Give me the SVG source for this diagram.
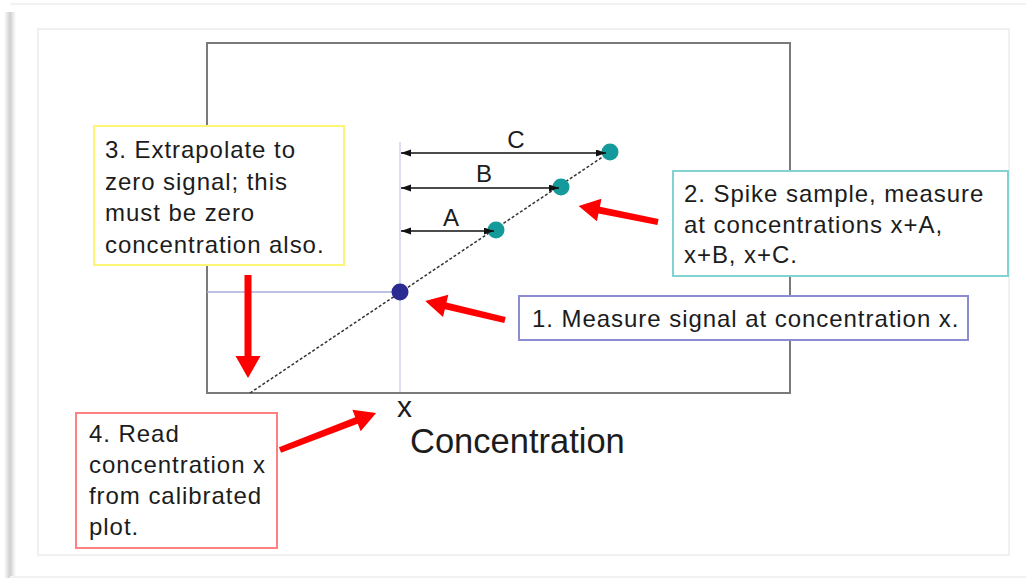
<svg xmlns="http://www.w3.org/2000/svg" width="1026" height="579" viewBox="0 0 1026 579">
<style>
.box{fill:#fff;stroke-width:2}
.t{font-family:"Liberation Sans",Arial,sans-serif;font-size:24px;letter-spacing:0.95px;fill:#1c1c1c}
.lbl{font-family:"Liberation Sans",Arial,sans-serif;font-size:24px;fill:#1c1c1c;text-anchor:middle}
.red{fill:#ff0000}
.dim{stroke:#111;stroke-width:1.6;fill:none;marker-start:url(#ah);marker-end:url(#ah)}
.teal{fill:#149a9a}
</style>
<defs>
<marker id="ah" markerUnits="userSpaceOnUse" markerWidth="11" markerHeight="8" refX="10" refY="3.5" orient="auto-start-reverse">
<path d="M0,0 L10,3.5 L0,7 z" fill="#111"/>
</marker>
<linearGradient id="sh" x1="0" y1="0" x2="1" y2="0">
<stop offset="0" stop-color="#ffffff"/>
<stop offset="0.5" stop-color="#cfcfcf"/>
<stop offset="1" stop-color="#ffffff"/>
</linearGradient>
</defs>
<rect width="1026" height="579" fill="#fff"/>
<g id="frame">
<line x1="10" y1="4" x2="1026" y2="4" stroke="#f2f2f2" stroke-width="2"/>
<rect x="4" y="12" width="12" height="566" fill="url(#sh)"/>
<line x1="10" y1="577" x2="1026" y2="577" stroke="#f2f2f2" stroke-width="2"/>
<rect x="38" y="29" width="971" height="526" fill="none" stroke="#ececec" stroke-width="1.5"/>
</g>
<g id="plot">
<rect x="207" y="43" width="583" height="350" fill="#fff" stroke="#7a7a7a" stroke-width="2"/>
</g>
<g id="connectors">
<line x1="207" y1="292" x2="400" y2="292" stroke="#a8acde" stroke-width="1.5"/>
<line x1="400" y1="142" x2="400" y2="392" stroke="#d0d2ee" stroke-width="1.5"/>
<line x1="250" y1="393" x2="610" y2="152" stroke="#333" stroke-width="1.5" stroke-dasharray="3 2"/>
</g>
<g id="point-x"><circle cx="400" cy="292" r="8.5" fill="#2b2b92"/></g>
<g id="point-a"><circle cx="496" cy="230" r="8.5" class="teal"/></g>
<g id="point-b"><circle cx="561" cy="187" r="8.5" class="teal"/></g>
<g id="point-c"><circle cx="610" cy="152" r="8.5" class="teal"/></g>
<g id="spans">
<line class="dim" x1="401" y1="231" x2="494" y2="231"/>
<line class="dim" x1="401" y1="188" x2="559" y2="188"/>
<line class="dim" x1="401" y1="153" x2="606" y2="153"/>
</g>
<g id="label-a"><text class="lbl" x="451" y="226">A</text></g>
<g id="label-b"><text class="lbl" x="484" y="182">B</text></g>
<g id="label-c"><text class="lbl" x="516" y="148">C</text></g>
<g id="axis-x"><text x="397" y="417" font-family="Liberation Sans,Arial,sans-serif" font-size="30" fill="#1c1c1c">x</text></g>
<g id="axis-title"><text x="410" y="453" font-family="Liberation Sans,Arial,sans-serif" font-size="34.5" fill="#1c1c1c">Concentration</text></g>
<g id="step3">
<rect class="box" x="94" y="126" width="250" height="139" stroke="#fbf578"/>
<text class="t" x="105" y="158">3. Extrapolate to</text>
<text class="t" x="105" y="189.5">zero signal; this</text>
<text class="t" x="105" y="221">must be zero</text>
<text class="t" x="105" y="252.5">concentration also.</text>
</g>
<g id="step2">
<rect class="box" x="673" y="171" width="335" height="105" stroke="#82d2d2"/>
<text class="t" x="684" y="202">2. Spike sample, measure</text>
<text class="t" x="684" y="232.5">at concentrations x+A,</text>
<text class="t" x="684" y="263">x+B, x+C.</text>
</g>
<g id="step1">
<rect class="box" x="519" y="296" width="449" height="44" stroke="#8c8cd2"/>
<text class="t" x="532" y="327">1. Measure signal at concentration x.</text>
</g>
<g id="step4">
<rect class="box" x="76" y="413" width="201" height="135" stroke="#ff8080"/>
<text class="t" x="89" y="442">4. Read</text>
<text class="t" x="89" y="473">concentration x</text>
<text class="t" x="89" y="504">from calibrated</text>
<text class="t" x="89" y="535">plot.</text>
</g>
<g id="red-arrows">
<polygon class="red" transform="translate(505,320) rotate(193.4)" points="0,-3 61,-3.5 61,-11.5 82,0 61,11.5 61,3.5 0,3"/>
<polygon class="red" transform="translate(658,222) rotate(191.45)" points="0,-3 60,-3.5 60,-11.5 81,0 60,11.5 60,3.5 0,3"/>
<polygon class="red" transform="translate(248,275) rotate(90)" points="0,-3.5 81,-3.5 81,-12.5 103,0 81,12.5 81,3.5 0,3.5"/>
<polygon class="red" transform="translate(280,450) rotate(-21.07)" points="0,-3 82,-3.5 82,-11.5 103,0 82,11.5 82,3.5 0,3"/>
</g>
</svg>
